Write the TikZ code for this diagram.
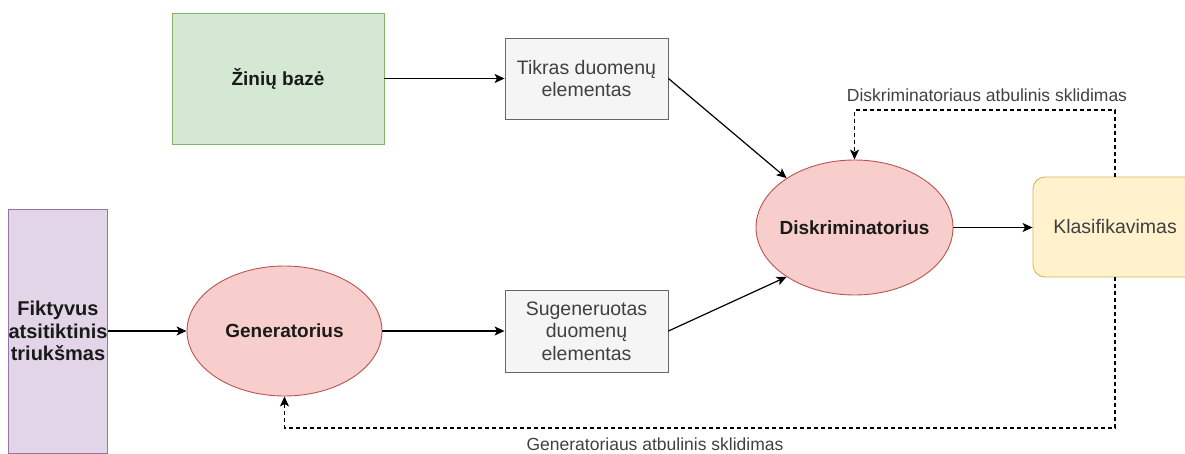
\documentclass[tikz,border=0pt]{standalone}
\usepackage{fontspec}
\setmainfont{Liberation Sans}
\usetikzlibrary{arrows.meta,shapes.geometric}
\definecolor{greenfill}{HTML}{D5E8D4}
\definecolor{greenline}{HTML}{82B366}
\definecolor{grayfill}{HTML}{F5F5F5}
\definecolor{grayline}{HTML}{666666}
\definecolor{graytext}{HTML}{404040}
\definecolor{darktext}{HTML}{1A1A1A}
\definecolor{purplefill}{HTML}{E1D5E7}
\definecolor{purpleline}{HTML}{9673A6}
\definecolor{redfill}{HTML}{F8CECC}
\definecolor{redline}{HTML}{B85450}
\definecolor{yellowfill}{HTML}{FFF2CC}
\definecolor{yellowline}{HTML}{D6B656}
\tikzset{
  x=1pt, y=-1pt,
  box/.style={draw, line width=0.9pt, inner sep=0pt, align=center},
  plainbox/.style={box, fill=grayfill, draw=grayline, text=graytext, font=\fontsize{19.5}{22.5}\selectfont},
  boldtext/.style={font=\bfseries\fontsize{19}{22.5}\selectfont, text=darktext},
  % the ellipse keeps its given size; its text sits on top as a centred label
  blob/.style={ellipse, draw=redline, fill=redfill, line width=0.9pt, inner sep=0pt,
               label={[boldtext]center:#1}},
  flow/.style={line width=1.2pt, -{Stealth[length=10pt,width=9pt,inset=2.5pt]}},
  back/.style={flow, dash pattern=on 4pt off 3pt},
  lbl/.style={font=\fontsize{17.5}{20}\selectfont, text=graytext}
}
\begin{document}
\begin{tikzpicture}
\useasboundingbox (0,0) rectangle (1185,454);
\clip (0,0) rectangle (1185,454);

% knowledge base and real sample
\node[box, fill=greenfill, draw=greenline, minimum width=212pt, minimum height=131pt, boldtext]
      (kb) at (278,78.5) {Žinių bazė};
\node[plainbox, minimum width=163pt, minimum height=81pt] (real) at (586.5,78.5)
      {Tikras duomenų\\elementas};

% noise source, generator and generated sample
\node[box, fill=purplefill, draw=purpleline, minimum width=98pt, minimum height=244pt,
      boldtext, font=\bfseries\fontsize{20}{22.5}\selectfont] (noise) at (58,331)
      {Fiktyvus\\atsitiktinis\\triukšmas};
\node[blob=Generatorius, minimum width=195pt, minimum height=130pt] (gen) at (284.5,331) {};
\node[plainbox, minimum width=163pt, minimum height=82pt] (fake) at (586.5,331)
      {Sugeneruotas\\duomenų\\elementas};

% discriminator and classification
\node[blob=Diskriminatorius, minimum width=197pt, minimum height=135pt] (disc) at (854.5,227.5) {};
\node[box, rounded corners=12pt, fill=yellowfill, draw=yellowline, minimum width=164pt,
      minimum height=100pt, font=\fontsize{19.5}{22}\selectfont, text=graytext]
      (cls) at (1115,227) {Klasifikavimas};

% forward flow
\draw[flow] (kb.east) -- (real.west);
\draw[flow] (noise.east) -- (gen.west);
\draw[flow] (gen.east) -- (fake.west);
\draw[flow] (real.east) -- (disc.144);
\draw[flow] (fake.east) -- (disc.216);
\draw[flow] (disc.east) -- (disc.east -| cls.west);

% backpropagation paths
\draw[back] (cls.north) -- (cls.north |- 0,110) -- (disc.north |- 0,110) -- (disc.north);
\draw[back] (cls.south) -- (cls.south |- 0,428) -- (gen.south |- 0,428) -- (gen.south);
\node[lbl] (dlbl) at (987,95) {Diskriminatoriaus atbulinis sklidimas};
\node[lbl] (glbl) at (655,444) {Generatoriaus atbulinis sklidimas};
\end{tikzpicture}
\end{document}
